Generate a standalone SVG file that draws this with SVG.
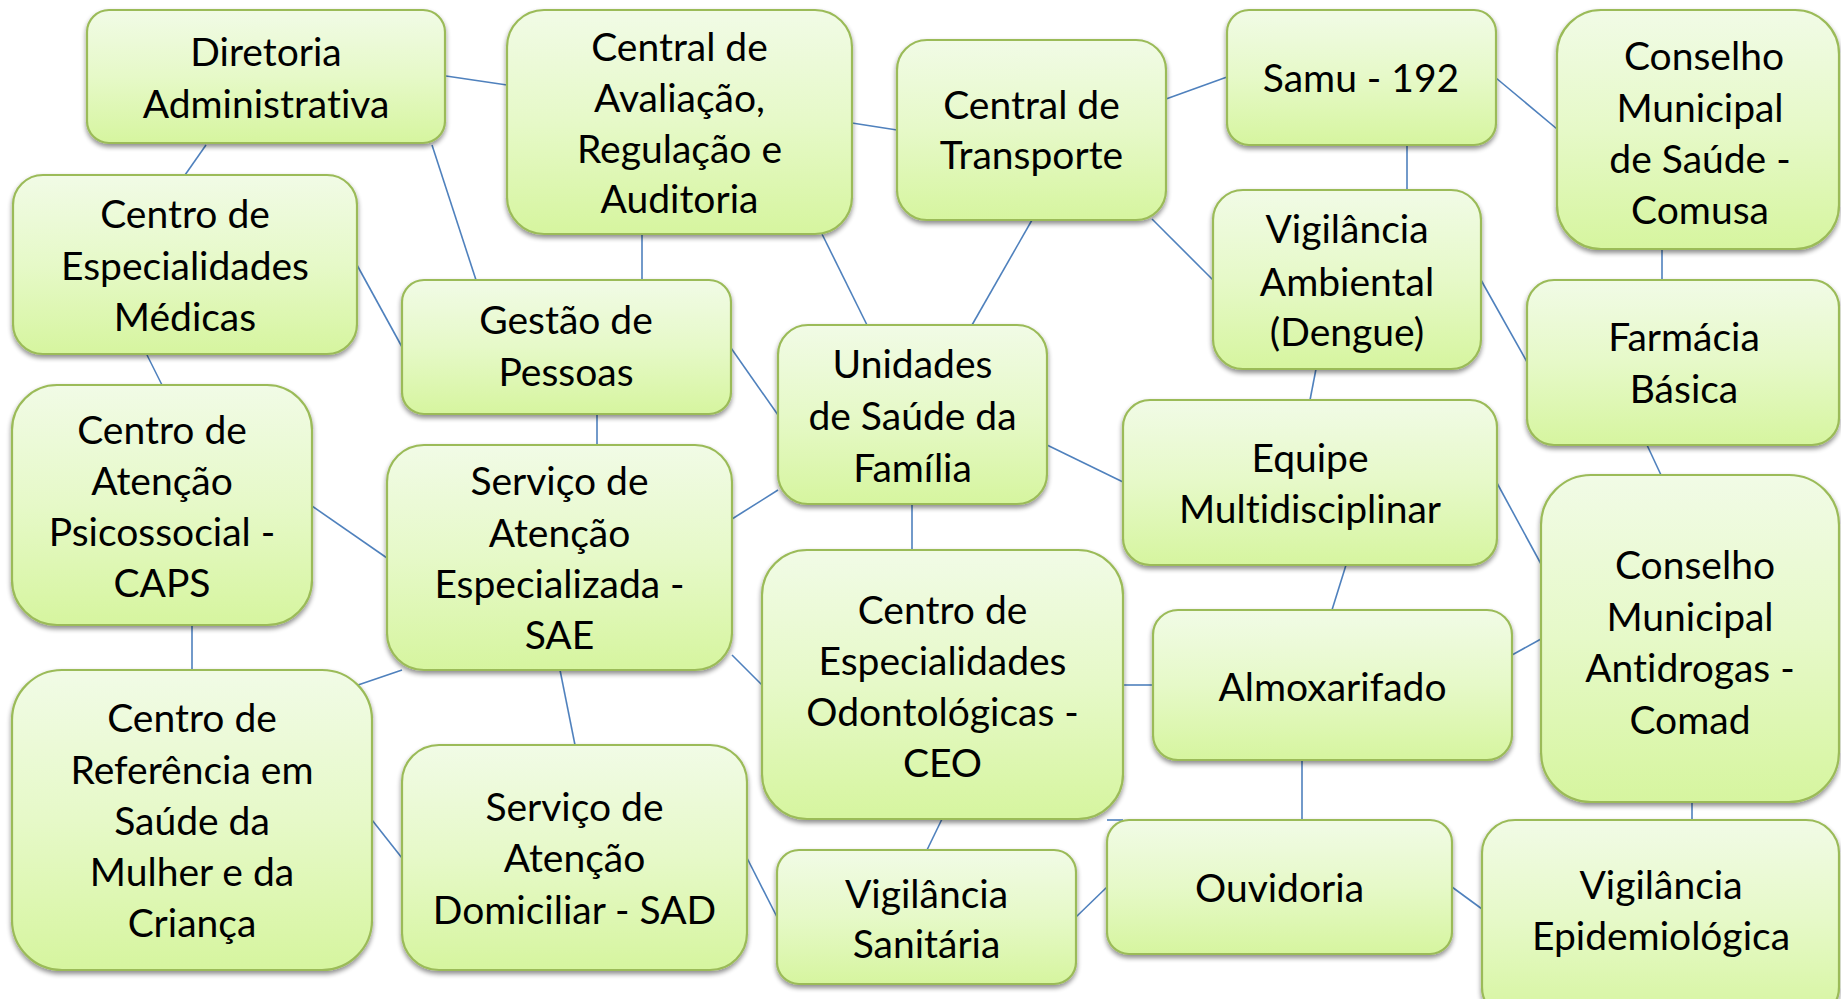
<svg xmlns="http://www.w3.org/2000/svg" width="1841" height="999" viewBox="0 0 1841 999">
<defs>
<linearGradient id="g" x1="0" y1="0" x2="0" y2="1">
<stop offset="0" stop-color="#f1fbe6"/>
<stop offset="0.5" stop-color="#e6f9c8"/>
<stop offset="1" stop-color="#d6f59f"/>
</linearGradient>
<filter id="sh" x="-10%" y="-10%" width="120%" height="125%">
<feGaussianBlur in="SourceAlpha" stdDeviation="2.5"/>
<feOffset dx="0" dy="3" result="b"/>
<feComponentTransfer><feFuncA type="linear" slope="0.45"/></feComponentTransfer>
<feMerge><feMergeNode/><feMergeNode in="SourceGraphic"/></feMerge>
</filter>
</defs>
<style>
.n rect{fill:url(#g);stroke:#9bbb59;stroke-width:2.2;filter:url(#sh)}
.n text{font-family:Lato,"Liberation Sans",sans-serif;font-size:39px;fill:#000;text-anchor:middle;font-variant-ligatures:none;font-feature-settings:"liga" 0,"dlig" 0}
#connectors line{stroke:#4f81bd;stroke-width:1.6}
</style>
<rect width="1841" height="999" fill="#fff"/>
<g id="connectors">
<line x1="446" y1="76" x2="507" y2="85"/>
<line x1="206" y1="145" x2="185" y2="175"/>
<line x1="432" y1="145" x2="476" y2="280"/>
<line x1="357" y1="265" x2="402" y2="347"/>
<line x1="147" y1="355" x2="162" y2="385"/>
<line x1="852" y1="123" x2="897" y2="130"/>
<line x1="642" y1="234" x2="642" y2="280"/>
<line x1="822" y1="234" x2="867" y2="325"/>
<line x1="1032" y1="220" x2="972" y2="325"/>
<line x1="1166" y1="99" x2="1227" y2="77"/>
<line x1="1152" y1="219" x2="1213" y2="280"/>
<line x1="731" y1="348" x2="778" y2="415"/>
<line x1="1496" y1="78" x2="1557" y2="129"/>
<line x1="1407" y1="145" x2="1407" y2="190"/>
<line x1="1662" y1="249" x2="1662" y2="280"/>
<line x1="1481" y1="280" x2="1527" y2="362"/>
<line x1="1316" y1="369" x2="1310" y2="400"/>
<line x1="1647" y1="445" x2="1661" y2="475"/>
<line x1="1497" y1="483" x2="1541" y2="564"/>
<line x1="597" y1="414" x2="597" y2="445"/>
<line x1="312" y1="506" x2="387" y2="558"/>
<line x1="192" y1="625" x2="192" y2="670"/>
<line x1="402" y1="670" x2="358" y2="685"/>
<line x1="560" y1="670" x2="575" y2="745"/>
<line x1="372" y1="820" x2="402" y2="858"/>
<line x1="732" y1="519" x2="778" y2="490"/>
<line x1="732" y1="655" x2="762" y2="685"/>
<line x1="747" y1="858" x2="777" y2="917"/>
<line x1="912" y1="504" x2="912" y2="550"/>
<line x1="1047" y1="445" x2="1123" y2="482"/>
<line x1="1346" y1="565" x2="1332" y2="610"/>
<line x1="1123" y1="685" x2="1153" y2="685"/>
<line x1="1302" y1="760" x2="1302" y2="820"/>
<line x1="942" y1="819" x2="927" y2="850"/>
<line x1="1076" y1="917" x2="1107" y2="887"/>
<line x1="1107" y1="820" x2="1123" y2="820"/>
<line x1="1512" y1="655" x2="1541" y2="639"/>
<line x1="1692" y1="802" x2="1692" y2="820"/>
<line x1="1452" y1="887" x2="1482" y2="909"/>
</g>
<g id="diretoria" class="n"><rect x="87" y="10" width="358" height="133" rx="22"/><text x="266" y="66">Diretoria</text><text x="266" y="118">Administrativa</text></g>
<g id="central-avaliacao" class="n"><rect x="507" y="10" width="345" height="224" rx="37"/><text x="679.5" y="61">Central de</text><text x="679.5" y="112">Avaliação,</text><text x="679.5" y="163">Regulação e</text><text x="679.5" y="213">Auditoria</text></g>
<g id="central-transporte" class="n"><rect x="897" y="40" width="269" height="180" rx="30"/><text x="1031.5" y="119">Central de</text><text x="1031.5" y="169">Transporte</text></g>
<g id="samu" class="n"><rect x="1227" y="10" width="269" height="135" rx="22"/><text x="1361" y="92">Samu - 192</text></g>
<g id="comusa" class="n"><rect x="1557" y="10" width="282" height="239" rx="44"/><text x="1704" y="70">Conselho</text><text x="1700" y="122">Municipal</text><text x="1700" y="173">de Saúde -</text><text x="1700" y="224">Comusa</text></g>
<g id="vigilancia-ambiental" class="n"><rect x="1213" y="190" width="268" height="179" rx="30"/><text x="1347" y="243">Vigilância</text><text x="1347" y="296">Ambiental</text><text x="1347" y="346">(Dengue)</text></g>
<g id="farmacia" class="n"><rect x="1527" y="280" width="312" height="165" rx="27"/><text x="1684" y="351">Farmácia</text><text x="1684" y="403">Básica</text></g>
<g id="equipe" class="n"><rect x="1123" y="400" width="374" height="165" rx="27"/><text x="1310" y="472">Equipe</text><text x="1310" y="523">Multidisciplinar</text></g>
<g id="usf" class="n"><rect x="778" y="325" width="269" height="179" rx="30"/><text x="912.5" y="378">Unidades</text><text x="912.5" y="430">de Saúde da</text><text x="912.5" y="482">Família</text></g>
<g id="gestao" class="n"><rect x="402" y="280" width="329" height="134" rx="22"/><text x="566" y="334">Gestão de</text><text x="566" y="386">Pessoas</text></g>
<g id="cem" class="n"><rect x="13" y="175" width="344" height="179" rx="30"/><text x="185" y="228">Centro de</text><text x="185" y="280">Especialidades</text><text x="185" y="331">Médicas</text></g>
<g id="caps" class="n"><rect x="12" y="385" width="300" height="240" rx="45"/><text x="162" y="444">Centro de</text><text x="162" y="495">Atenção</text><text x="162" y="546">Psicossocial -</text><text x="162" y="597">CAPS</text></g>
<g id="sae" class="n"><rect x="387" y="445" width="345" height="225" rx="37"/><text x="559.5" y="495">Serviço de</text><text x="559.5" y="547">Atenção</text><text x="559.5" y="598">Especializada -</text><text x="559.5" y="649">SAE</text></g>
<g id="crsm" class="n"><rect x="12" y="670" width="360" height="300" rx="50"/><text x="192" y="732">Centro de</text><text x="192" y="784">Referência em</text><text x="192" y="835">Saúde da</text><text x="192" y="886">Mulher e da</text><text x="192" y="937">Criança</text></g>
<g id="sad" class="n"><rect x="402" y="745" width="345" height="225" rx="37"/><text x="574.5" y="821">Serviço de</text><text x="574.5" y="872">Atenção</text><text x="574.5" y="924">Domiciliar - SAD</text></g>
<g id="ceo" class="n"><rect x="762" y="550" width="361" height="269" rx="45"/><text x="942.5" y="624">Centro de</text><text x="942.5" y="675">Especialidades</text><text x="942.5" y="726">Odontológicas -</text><text x="942.5" y="777">CEO</text></g>
<g id="almoxarifado" class="n"><rect x="1153" y="610" width="359" height="150" rx="25"/><text x="1332.5" y="701">Almoxarifado</text></g>
<g id="comad" class="n"><rect x="1541" y="475" width="298" height="327" rx="50"/><text x="1695" y="579">Conselho</text><text x="1690" y="631">Municipal</text><text x="1690" y="682">Antidrogas -</text><text x="1690" y="734">Comad</text></g>
<g id="ouvidoria" class="n"><rect x="1107" y="820" width="345" height="134" rx="22"/><text x="1279.5" y="902">Ouvidoria</text></g>
<g id="vigilancia-sanitaria" class="n"><rect x="777" y="850" width="299" height="134" rx="22"/><text x="926.5" y="908">Vigilância</text><text x="926.5" y="958">Sanitária</text></g>
<g id="vigilancia-epidemiologica" class="n"><rect x="1482" y="820" width="357" height="200" rx="33"/><text x="1661" y="899">Vigilância</text><text x="1661" y="950">Epidemiológica</text></g>
</svg>
